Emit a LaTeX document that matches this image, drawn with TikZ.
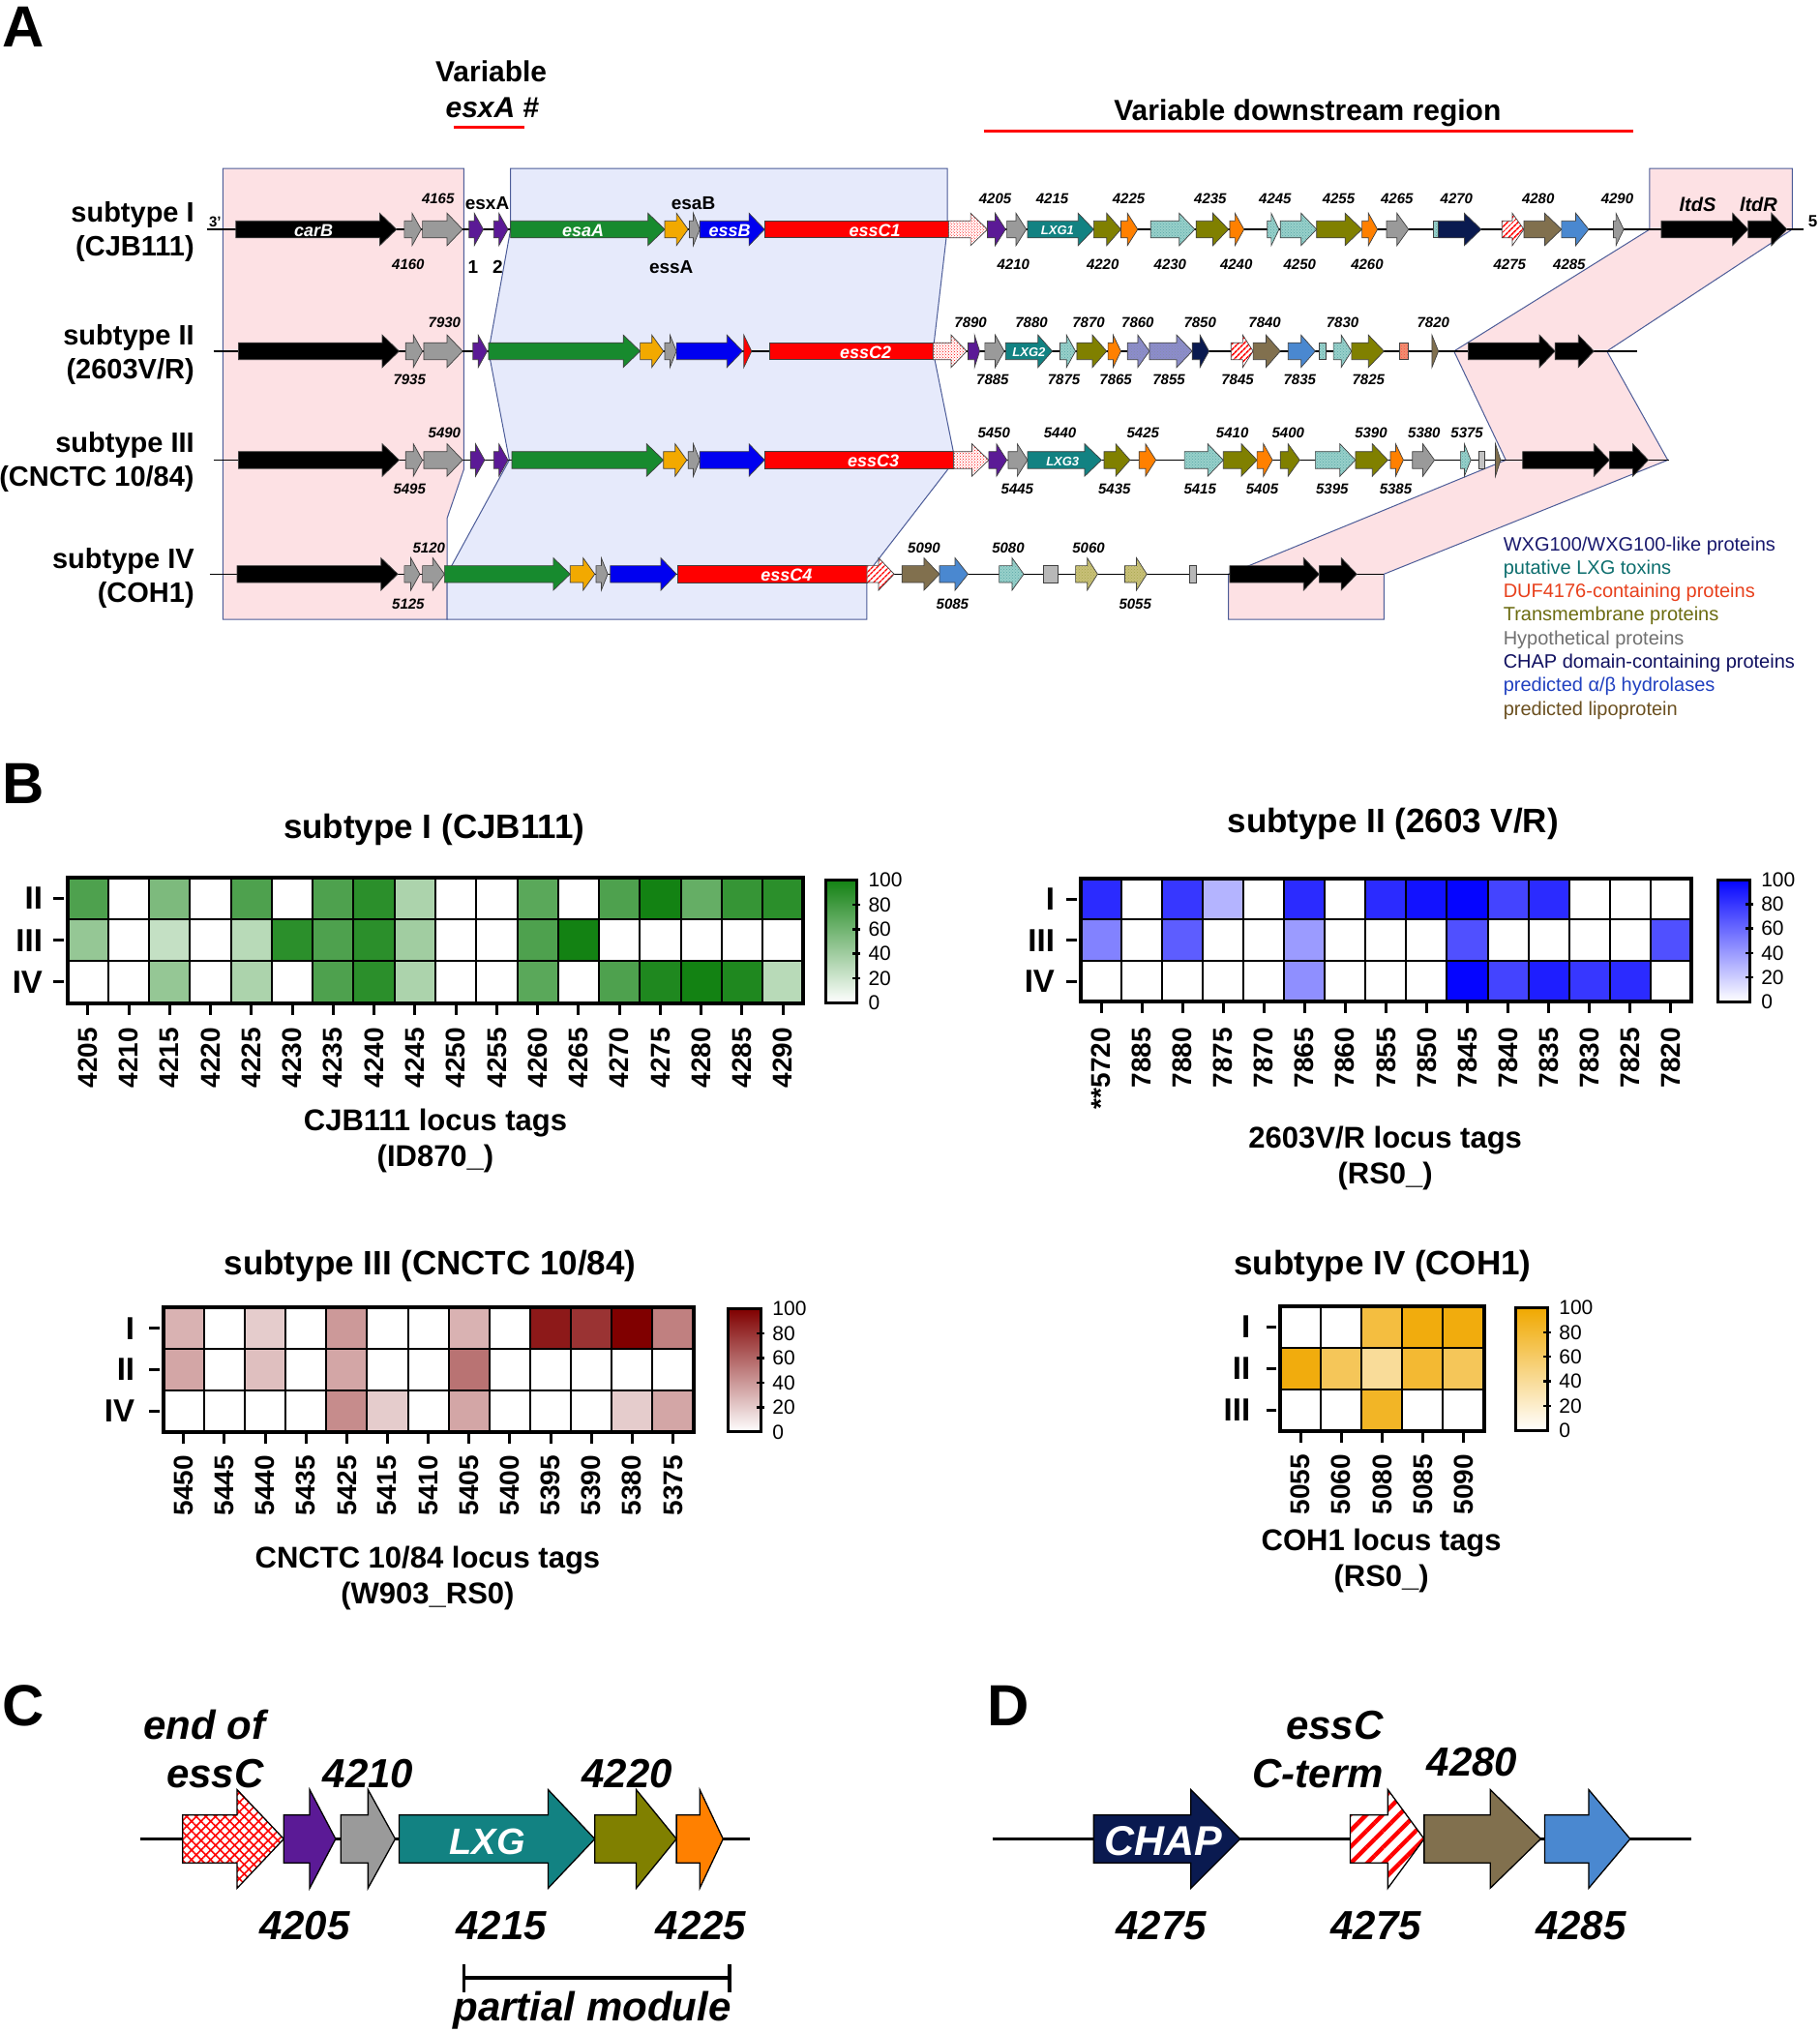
\documentclass[tikz,border=0pt]{standalone}
\usepackage{fontspec}
\setmainfont{Liberation Sans}
\usetikzlibrary{patterns,patterns.meta}
\definecolor{cGrey}{HTML}{9A9A9A}
\definecolor{cPurple}{HTML}{5B1A96}
\definecolor{cGreen}{HTML}{178A2E}
\definecolor{cYellow}{HTML}{F2A900}
\definecolor{cBlue}{HTML}{0000F0}
\definecolor{cRed}{HTML}{FF0000}
\definecolor{cTeal}{HTML}{128282}
\definecolor{cOlive}{HTML}{808000}
\definecolor{cOrange}{HTML}{FF8000}
\definecolor{cNavy}{HTML}{0A1A50}
\definecolor{cBrown}{HTML}{81704E}
\definecolor{cLBlue}{HTML}{4A88D0}
\definecolor{cLTeal}{HTML}{98D0CA}
\definecolor{cLav}{HTML}{8C8CCC}
\definecolor{cKhaki}{HTML}{C8C078}
\definecolor{cSalmon}{HTML}{F09070}
\definecolor{cPink}{HTML}{FDE1E4}
\definecolor{cBox}{HTML}{E6EAFB}
\definecolor{cEdge}{HTML}{4C5C98}
\definecolor{hG}{HTML}{138213}
\definecolor{hB}{HTML}{0505FF}
\definecolor{hR}{HTML}{800000}
\definecolor{hY}{HTML}{F0A800}
\definecolor{lNavy}{HTML}{1A1A6E}
\definecolor{lTeal}{HTML}{0D6E6E}
\definecolor{lRed}{HTML}{E8401C}
\definecolor{lOlive}{HTML}{6B6B10}
\definecolor{lGrey}{HTML}{707070}
\definecolor{lCHAP}{HTML}{101060}
\definecolor{lBlue}{HTML}{2040C0}
\definecolor{lBrown}{HTML}{6B5020}

\def\gb{6.5}\def\gh{12.5}
\newcommand\GA[5][]{\path[gene,#1] (#2,#4-\gb) -- (#3-#5,#4-\gb) -- (#3-#5,#4-\gh) -- (#3,#4) -- (#3-#5,#4+\gh) -- (#3-#5,#4+\gb) -- (#2,#4+\gb) -- cycle;}
\newcommand\GR[4][]{\path[gene,#1] (#2,#4-\gb) rectangle (#3,#4+\gb);}
\newcommand\HMrow[6]{\foreach \v [count=\i from 0] in {#6} {\fill[#5!\v!white] ({#1+\i*#3},#2) rectangle ++(#3,#4);}}
\newcommand\HMgrid[5]{%
  \pgfmathtruncatemacro\nn{#5-1}%
  \foreach \i in {1,...,\nn} \draw[line width=2pt] ({#1+\i*#3},#2) -- ++(0,3*#4);
  \foreach \j in {1,2} \draw[line width=2pt] (#1,{#2+\j*#4}) -- ++({#5*#3},0);
  \draw[line width=4pt] (#1,#2) rectangle ++({#5*#3},3*#4);
  \foreach \i in {0,...,\nn} \draw[line width=3pt] ({#1+(\i+0.5)*#3},{#2+3*#4}) -- ++(0,9);
  \foreach \j in {0,1,2} \draw[line width=3pt] ({#1-11},{#2+(\j+0.5)*#4}) -- ++(8,0);
}
\newcommand\HMbar[5]{%
  \shade[top color=#5, bottom color=white] (#1,#3) rectangle (#2,#4);
  \draw[line width=3pt] (#1,#3) rectangle (#2,#4);
  \foreach \v in {20,40,60,80} \draw[line width=2.5pt] ({#2-3},{#4-(#4-#3)*\v/100}) -- ++(6,0);
  \foreach \v in {0,20,...,100} \node[hbarlab] at ({#2+9},{#4-(#4-#3)*\v/100}) {\v};
}

\begin{document}
\begin{tikzpicture}[x=1.3397pt,y=-1.3397pt,
  gene/.style={draw=black!75, line width=0.7pt},
  dots/.style={preaction={fill=white}, pattern=crosshatch dots, pattern color=red},
  stripes/.style={preaction={fill=white}, pattern={Lines[angle=45,distance=4pt,line width=1.6pt]}, pattern color=red},
  stripesD/.style={preaction={fill=white}, pattern={Lines[angle=45,distance=12pt,line width=4.5pt]}, pattern color=red},
  maze/.style={preaction={fill=white}, pattern={Hatch[angle=45,distance=7pt,line width=1.6pt]}, pattern color=red},
  lteal/.style={preaction={fill=cLTeal}, pattern=crosshatch dots, pattern color=cTeal!70},
  lav/.style={preaction={fill=cLav}, pattern=crosshatch dots, pattern color=cNavy!50},
  khaki/.style={preaction={fill=cKhaki}, pattern=crosshatch dots, pattern color=cOlive!70},
  salmonp/.style={preaction={fill=cSalmon}, pattern=crosshatch dots, pattern color=red!70},
  glab/.style={font=\bfseries\itshape\fontsize{15}{15}\selectfont, inner sep=0pt},
  gin/.style={font=\bfseries\itshape\fontsize{18}{18}\selectfont, text=white, inner sep=0pt},
  gins/.style={font=\bfseries\itshape\fontsize{13}{13}\selectfont, text=white, inner sep=0pt},
  gname/.style={font=\bfseries\fontsize{19}{19}\selectfont, inner sep=0pt},
  rowlab/.style={font=\bfseries\fontsize{29}{35}\selectfont, align=right, anchor=east, inner sep=0pt},
  panel/.style={font=\bfseries\fontsize{60}{60}\selectfont, inner sep=0pt},
  headA/.style={font=\bfseries\fontsize{30}{30}\selectfont, inner sep=0pt},
  leg/.style={font=\fontsize{20}{20}\selectfont, anchor=west, inner sep=0pt},
  htitle/.style={font=\bfseries\fontsize{35}{35}\selectfont, inner sep=0pt},
  haxis/.style={font=\bfseries\fontsize{31}{37}\selectfont, align=center, inner sep=0pt},
  hcol/.style={font=\bfseries\fontsize{28}{28}\selectfont, rotate=90, anchor=east, inner sep=0pt},
  hrowl/.style={font=\bfseries\fontsize{33}{33}\selectfont, anchor=east, inner sep=0pt},
  hbarlab/.style={font=\fontsize{21}{21}\selectfont, anchor=west, inner sep=0pt},
  big/.style={font=\bfseries\itshape\fontsize{42}{42}\selectfont, inner sep=0pt},
  edge/.style={draw=cEdge, line width=1pt}]
\useasboundingbox (0,0) rectangle (1404,1568);
\fill[white] (0,0) rectangle (1404,1568);

% ================= PANEL A =================
\node[panel] (pA) at (18,21) {A};
\node[headA] (var) at (379,55) {Variable};
\node[headA] (varx) at (380,83) {\textit{esxA} \#};
\draw[red, line width=3pt] (350,98) -- (405,98);
\node[headA] (vdr) at (1009,87) {Variable downstream region};
\draw[red, line width=3pt] (759,101) -- (1260,101);

% shaded regions
\path[edge, fill=cPink] (172,130) -- (358,130) -- (358,362) -- (345,400) -- (345,478) -- (172,478) -- cycle;
\path[edge, fill=cBox] (394,130) -- (731,130) -- (731,177) -- (720,271) -- (737,355) -- (669,443) -- (669,478) -- (345,478) -- (345,443) -- (393,355) -- (377,271) -- (394,177) -- cycle;
\path[edge, fill=cPink] (1273,130) -- (1383,130) -- (1383,177) -- (1240,271) -- (1287,355) -- (1068,443) -- (1068,478) -- (948,478) -- (948,443) -- (1162,355) -- (1122,271) -- (1273,177) -- cycle;

% row labels
\node[rowlab] (r1) at (150,179) {subtype I\\(CJB111)};
\node[rowlab] (r2) at (150,273.5) {subtype II\\(2603V/R)};
\node[rowlab] (r3) at (150,356.5) {subtype III\\(CNCTC 10/84)};
\node[rowlab] (r4) at (150,446) {subtype IV\\(COH1)};

% ---- Row I ----
\draw[line width=1.2pt] (160,177) -- (1392,177);
\node[font=\bfseries\fontsize{15}{15}\selectfont, inner sep=0pt] (p3) at (166,171) {3'};
\node[font=\bfseries\fontsize{17}{17}\selectfont, inner sep=0pt] (p5) at (1399,171) {5};
\GA[fill=black]{182}{306}{177}{13}
\GA[fill=cGrey]{312}{325}{177}{7}
\GA[fill=cGrey]{326}{357}{177}{12}
\GA[fill=cPurple]{362}{373}{177}{7}
\GA[fill=cPurple]{381}{392}{177}{7}
\GA[fill=cGreen]{394}{513}{177}{13}
\GA[fill=cYellow]{513}{531}{177}{9}
\GA[fill=cGrey]{532}{540}{177}{5}
\GA[fill=cBlue]{540}{590}{177}{12}
\GR[fill=cRed]{590}{732}{177}
\GA[dots]{732}{762}{177}{13}
\GA[fill=cPurple]{762}{776}{177}{8}
\GA[fill=cGrey]{777}{792}{177}{8}
\GA[fill=cTeal]{793}{844}{177}{12}
\GA[fill=cOlive]{844}{865}{177}{11}
\GA[fill=cOrange]{865}{878}{177}{8}
\GA[lteal]{888}{922}{177}{12}
\GA[fill=cOlive]{923}{948}{177}{12}
\GA[fill=cOrange]{949}{960}{177}{7}
\GA[lteal]{978}{987}{177}{6}
\GA[lteal]{988}{1016}{177}{12}
\GA[fill=cOlive]{1016}{1051}{177}{13}
\GA[fill=cOrange]{1051}{1063}{177}{7}
\GA[fill=cGrey]{1070}{1087}{177}{9}
\GR[lteal]{1106}{1110}{177}
\GA[fill=cNavy]{1110}{1143}{177}{13}
\GA[stripes]{1159}{1176}{177}{9}
\GA[fill=cBrown]{1176}{1205}{177}{13}
\GA[fill=cLBlue]{1205}{1226}{177}{10}
\GA[fill=cGrey]{1245}{1253}{177}{6}
\GA[fill=black]{1282}{1349}{177}{12}
\GA[fill=black]{1349}{1379}{177}{12}
\node[gin] at (242,178) {carB};
\node[gin] at (450,178) {esaA};
\node[gin] at (563,178) {essB};
\node[gin] at (675,178) {essC1};
\node[gins] at (816,178) {LXG1};
\node[gname] at (376,157) {esxA};
\node[gname] at (535,157) {esaB};
\node[gname] at (518,206) {essA};
\node[gname] at (365,206) {1};
\node[gname] at (384,206) {2};
\node[font=\bfseries\itshape\fontsize{20}{20}\selectfont, inner sep=0pt] at (1310,158) {ltdS};
\node[font=\bfseries\itshape\fontsize{20}{20}\selectfont, inner sep=0pt] at (1357,158) {ltdR};
\foreach \x/\t in {338/4165,768/4205,812/4215,871/4225,934/4235,984/4245,1033/4255,1078/4265,1124/4270,1187/4280,1248/4290}
  \node[glab] at (\x,153) {\t};
\foreach \x/\t in {315/4160,782/4210,851/4220,903/4230,954/4240,1003/4250,1055/4260,1165/4275,1211/4285}
  \node[glab] at (\x,204) {\t};

% ---- Row II ----
\draw[line width=1.2pt] (165,271) -- (1263,271);
\GA[fill=black]{184}{308}{271}{13}
\GA[fill=cGrey]{313}{326}{271}{7}
\GA[fill=cGrey]{327}{357}{271}{12}
\GA[fill=cPurple]{365}{376}{271}{7}
\GA[fill=cGreen]{377}{494}{271}{13}
\GA[fill=cYellow]{494}{512}{271}{9}
\GA[fill=cGrey]{513}{522}{271}{5}
\GA[fill=cBlue]{522}{573}{271}{12}
\GA[fill=cRed]{574}{580}{271}{6}
\GR[fill=cRed]{594}{720}{271}
\GA[dots]{720}{746}{271}{12}
\GA[fill=cPurple]{747}{756}{271}{4}
\GA[fill=cGrey]{760}{775}{271}{7}
\GA[fill=cTeal]{776}{812}{271}{11}
\GA[lteal]{818}{830}{271}{7}
\GA[fill=cOlive]{831}{854}{271}{11}
\GA[fill=cOrange]{855}{865}{271}{6}
\GA[lav]{870}{887}{271}{9}
\GA[lav]{887}{920}{271}{12}
\GA[fill=cNavy]{920}{933}{271}{7}
\GA[stripes]{950}{967}{271}{8}
\GA[fill=cBrown]{967}{988}{271}{11}
\GA[fill=cLBlue]{994}{1015}{271}{11}
\GR[lteal]{1018}{1023}{271}
\GA[lteal]{1029}{1043}{271}{8}
\GA[fill=cOlive]{1043}{1068}{271}{12}
\GR[salmonp]{1080}{1087}{271}
\GA[fill=cBrown]{1105}{1110}{271}{5}
\GA[fill=black]{1133}{1200}{271}{12}
\GA[fill=black]{1200}{1230}{271}{12}
\node[gin] at (668,272) {essC2};
\node[gins] at (794,272) {LXG2};
\foreach \x/\t in {343/7930,749/7890,796/7880,840/7870,878/7860,926/7850,976/7840,1036/7830,1106/7820}
  \node[glab] at (\x,249) {\t};
\foreach \x/\t in {316/7935,766/7885,821/7875,861/7865,902/7855,955/7845,1003/7835,1056/7825}
  \node[glab] at (\x,293) {\t};

% ---- Row III ----
\draw[line width=1.2pt] (165,355) -- (1288,355);
\GA[fill=black]{184}{308}{355}{13}
\GA[fill=cGrey]{313}{326}{355}{7}
\GA[fill=cGrey]{327}{357}{355}{12}
\GA[fill=cPurple]{363}{374}{355}{7}
\GA[fill=cPurple]{381}{392}{355}{7}
\GA[fill=cGreen]{395}{512}{355}{13}
\GA[fill=cYellow]{512}{530}{355}{9}
\GA[fill=cGrey]{531}{540}{355}{5}
\GA[fill=cBlue]{540}{590}{355}{12}
\GR[fill=cRed]{590}{736}{355}
\GA[dots]{736}{763}{355}{13}
\GA[fill=cPurple]{763}{777}{355}{8}
\GA[fill=cGrey]{778}{793}{355}{8}
\GA[fill=cTeal]{793}{850}{355}{13}
\GA[fill=cOlive]{852}{872}{355}{11}
\GA[fill=cOrange]{879}{892}{355}{8}
\GA[lteal]{914}{944}{355}{12}
\GA[fill=cOlive]{944}{970}{355}{12}
\GA[fill=cOrange]{970}{982}{355}{7}
\GA[fill=cOlive]{988}{1003}{355}{9}
\GA[lteal]{1015}{1046}{355}{12}
\GA[fill=cOlive]{1046}{1071}{355}{12}
\GA[fill=cOrange]{1073}{1083}{355}{6}
\GA[fill=cGrey]{1090}{1107}{355}{9}
\GA[lteal]{1127}{1135}{355}{5}
\GR[fill=cGrey!60]{1141}{1146}{355}
\GA[fill=cBrown]{1154}{1158}{355}{4}
\GA[fill=black]{1175}{1242}{355}{12}
\GA[fill=black]{1242}{1272}{355}{12}
\node[gin] at (674,356) {essC3};
\node[gins] at (820,356) {LXG3};
\foreach \x/\t in {343/5490,767/5450,818/5440,882/5425,951/5410,994/5400,1058/5390,1099/5380,1132/5375}
  \node[glab] at (\x,334) {\t};
\foreach \x/\t in {316/5495,785/5445,860/5435,926/5415,974/5405,1028/5395,1077/5385}
  \node[glab] at (\x,377) {\t};

% ---- Row IV ----
\draw[line width=1.2pt] (162,443) -- (1068,443);
\GA[fill=black]{183}{307}{443}{13}
\GA[fill=cGrey]{312}{324}{443}{7}
\GA[fill=cGrey]{326}{343}{443}{9}
\GA[fill=cGreen]{343}{440}{443}{13}
\GA[fill=cYellow]{440}{459}{443}{9}
\GA[fill=cGrey]{460}{469}{443}{5}
\GA[fill=cBlue]{471}{522}{443}{12}
\GR[fill=cRed]{523}{669}{443}
\GA[stripes]{669}{690}{443}{12}
\GA[fill=cBrown]{696}{725}{443}{12}
\GA[fill=cLBlue]{725}{747}{443}{10}
\GA[lteal]{771}{790}{443}{9}
\GR[fill=cGrey!70]{805}{816}{443}
\GA[khaki]{830}{847}{443}{8}
\GA[khaki]{868}{885}{443}{8}
\GR[fill=cGrey!70]{918}{923}{443}
\GA[fill=black]{949}{1018}{443}{12}
\GA[fill=black]{1018}{1047}{443}{12}
\node[gin] at (607,444) {essC4};
\foreach \x/\t in {331/5120,713/5090,778/5080,840/5060}
  \node[glab] at (\x,423) {\t};
\foreach \x/\t in {315/5125,735/5085,876/5055}
  \node[glab] at (\x,466) {\t};

% legend
\node[leg, text=lNavy] (l1) at (1160,421) {WXG100/WXG100-like proteins};
\node[leg, text=lTeal] (l2) at (1160,439) {putative LXG toxins};
\node[leg, text=lRed] (l3) at (1160,457) {DUF4176-containing proteins};
\node[leg, text=lOlive] (l4) at (1160,475) {Transmembrane proteins};
\node[leg, text=lGrey] (l5) at (1160,494) {Hypothetical proteins};
\node[leg, text=lCHAP] (l6) at (1160,512) {CHAP domain-containing proteins};
\node[leg, text=lBlue] (l7) at (1160,530) {predicted α/β hydrolases};
\node[leg, text=lBrown] (l8) at (1160,548) {predicted lipoprotein};

% ================= PANEL B =================
\node[panel] (pB) at (18,605) {B};

% green
\node[htitle] (tG) at (335,640) {subtype I (CJB111)};
\HMrow{52}{677}{31.556}{32.333}{hG}{75,0,55,0,75,0,75,90,35,0,0,70,0,75,100,65,85,90}
\HMrow{52}{709.333}{31.556}{32.333}{hG}{45,0,25,0,30,90,75,90,40,0,0,75,100,0,0,0,0,0}
\HMrow{52}{741.667}{31.556}{32.333}{hG}{0,0,45,0,35,0,75,90,35,0,0,70,0,75,95,100,95,30}
\HMgrid{52}{677}{31.556}{32.333}{18}
\HMbar{637}{661}{679}{774}{hG}
\node[hrowl] at (33,693) {II};
\node[hrowl] at (33,725.5) {III};
\node[hrowl] at (33,758) {IV};
\foreach \t [count=\i from 0] in {4205,4210,...,4290}
  \node[hcol] at ({52+(\i+0.5)*31.556},793) {\t};
\node[haxis] (aG) at (336,880) {CJB111 locus tags\\(ID870\_)};

% blue
\node[htitle] (tB) at (1075,636) {subtype II (2603 V/R)};
\HMrow{834}{678}{31.4}{31.667}{hB}{85,0,80,30,0,85,0,85,95,100,75,85,0,0,0}
\HMrow{834}{709.667}{31.4}{31.667}{hB}{50,0,65,0,0,40,0,0,0,70,0,0,0,0,70}
\HMrow{834}{741.333}{31.4}{31.667}{hB}{0,0,0,0,0,45,0,0,0,100,75,90,80,85,0}
\HMgrid{834}{678}{31.4}{31.667}{15}
\HMbar{1326}{1350}{679}{773}{hB}
\node[hrowl] at (814,694) {I};
\node[hrowl] at (814,725.5) {III};
\node[hrowl] at (814,757) {IV};
\foreach \t [count=\i from 0] in {**5720,7885,7880,7875,7870,7865,7860,7855,7850,7845,7840,7835,7830,7825,7820}
  \node[hcol] at ({834+(\i+0.5)*31.4},793) {\t};
\node[haxis] (aB) at (1069,894) {2603V/R locus tags\\(RS0\_)};

% red
\node[htitle] (tR) at (332,977) {subtype III (CNCTC 10/84)};
\HMrow{126}{1009}{31.4615}{32}{hR}{30,0,20,0,40,0,0,30,0,90,80,100,50}
\HMrow{126}{1041}{31.4615}{32}{hR}{35,0,25,0,35,0,0,55,0,0,0,0,0}
\HMrow{126}{1073}{31.4615}{32}{hR}{0,0,0,0,45,20,0,35,0,0,0,20,35}
\HMgrid{126}{1009}{31.4615}{32}{13}
\HMbar{562}{587}{1010}{1105}{hR}
\node[hrowl] at (104,1025) {I};
\node[hrowl] at (104,1057) {II};
\node[hrowl] at (104,1089) {IV};
\foreach \t [count=\i from 0] in {5450,5445,5440,5435,5425,5415,5410,5405,5400,5395,5390,5380,5375}
  \node[hcol] at ({126+(\i+0.5)*31.4615},1123) {\t};
\node[haxis] (aR) at (330,1218) {CNCTC 10/84 locus tags\\(W903\_RS0)};

% gold
\node[htitle] (tY) at (1067,977) {subtype IV (COH1)};
\HMrow{988}{1008}{31.4}{32}{hY}{0,0,75,95,95}
\HMrow{988}{1040}{31.4}{32}{hY}{95,65,40,80,65}
\HMrow{988}{1072}{31.4}{32}{hY}{0,0,85,0,0}
\HMgrid{988}{1008}{31.4}{32}{5}
\HMbar{1170}{1194}{1009}{1104}{hY}
\node[hrowl] at (965,1024) {I};
\node[hrowl] at (965,1056) {II};
\node[hrowl] at (965,1088) {III};
\foreach \t [count=\i from 0] in {5055,5060,5080,5085,5090}
  \node[hcol] at ({988+(\i+0.5)*31.4},1122) {\t};
\node[haxis] (aY) at (1066,1204) {COH1 locus tags\\(RS0\_)};

% ================= PANEL C =================
\node[panel] (pC) at (18,1316) {C};
\def\gb{18.5}\def\gh{38}
\draw[line width=3pt] (108,1419) -- (579,1419);
\tikzset{gene/.style={draw=black, line width=1.3pt}}
\GA[maze]{141}{219}{1419}{36}
\GA[fill=cPurple]{219}{259}{1419}{20}
\GA[fill=cGrey]{263}{305}{1419}{21}
\GA[fill=cTeal]{308}{459}{1419}{36}
\GA[fill=cOlive]{459}{522}{1419}{31}
\GA[fill=cOrange]{522}{558}{1419}{18}
\node[big, text=white, font=\bfseries\itshape\fontsize{38}{38}\selectfont] at (376,1421) {LXG};
\node[big] at (158,1331) {end of};
\node[big] at (166,1369) {essC};
\node[big] at (284,1369) {4210};
\node[big] at (484,1369) {4220};
\node[big] at (235,1486) {4205};
\node[big] at (387,1486) {4215};
\node[big] at (541,1486) {4225};
\draw[line width=3.5pt] (358,1526) -- (563,1526);
\draw[line width=3.5pt] (358,1516) -- (358,1537);
\draw[line width=3.5pt] (563,1516) -- (563,1537);
\node[big] at (457,1551) {partial module};

% ================= PANEL D =================
\node[panel] (pD) at (778,1316) {D};
\draw[line width=3pt] (766,1419) -- (1305,1419);
\GA[fill=cNavy]{844}{957}{1419}{38}
\GA[stripesD]{1042}{1099}{1419}{28}
\GA[fill=cBrown]{1099}{1189}{1419}{39}
\GA[fill=cLBlue]{1192}{1258}{1419}{32}
\node[big, text=white, font=\bfseries\itshape\fontsize{43}{43}\selectfont] at (898,1421) {CHAP};
\node[big] at (1030,1331) {essC};
\node[big] at (1017,1369) {C-term};
\node[big] at (1136,1360) {4280};
\node[big] at (896,1486) {4275};
\node[big] at (1062,1486) {4275};
\node[big] at (1220,1486) {4285};
\end{tikzpicture}
\end{document}
